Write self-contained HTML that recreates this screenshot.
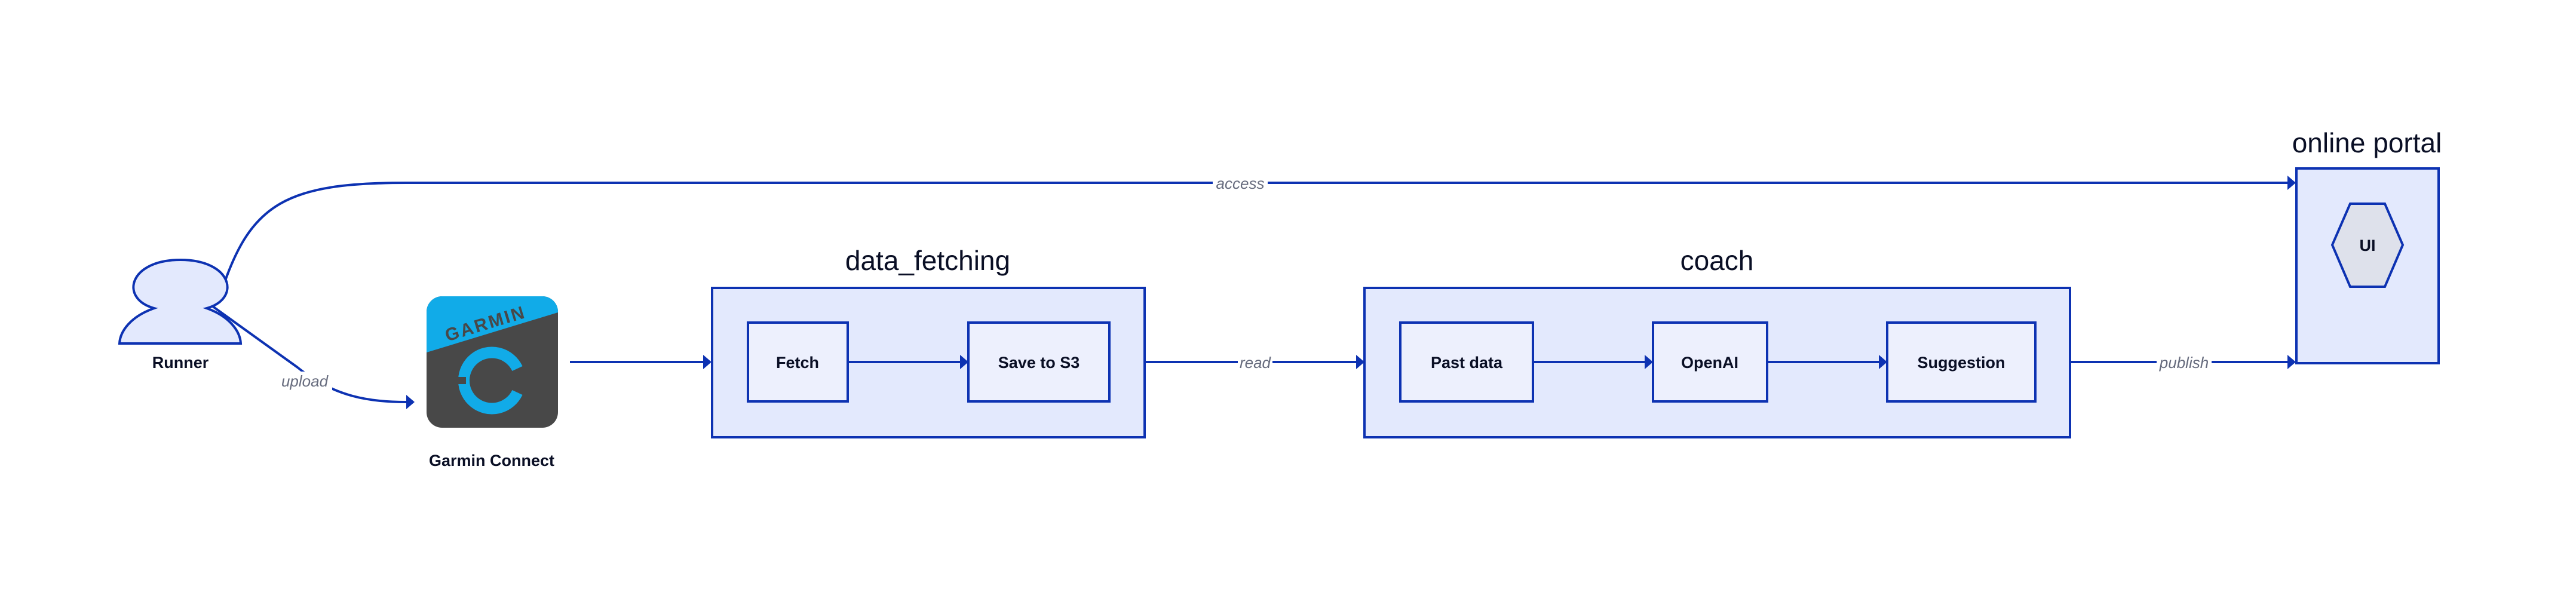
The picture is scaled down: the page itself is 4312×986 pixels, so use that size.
<!DOCTYPE html>
<html><head><meta charset="utf-8"><style>
html,body{margin:0;padding:0;background:#fff;}
svg{display:block;}
text{font-family:"Liberation Sans",sans-serif;}
.t{font-size:46px;fill:#0a0f25;text-anchor:middle;}
.n{font-size:27px;font-weight:bold;fill:#0a0f25;text-anchor:middle;}
.l{font-size:26px;font-style:italic;fill:#676c7e;text-anchor:middle;}
</style></head><body>
<svg width="4312" height="986" viewBox="0 0 4312 986" xmlns="http://www.w3.org/2000/svg">
<rect width="4312" height="986" fill="#fff"/>

<!-- access connector -->
<path d="M372,484 C420,340 480,306 680,306 L3830,306" fill="none" stroke="#0d32b2" stroke-width="4"/>
<polygon points="3843,306 3829,294 3829,318" fill="#0d32b2"/>
<rect x="2030" y="290" width="92" height="32" fill="#fff"/>
<text class="l" x="2076" y="316">access</text>

<!-- upload connector -->
<path d="M352,510 L498,615 C560,665 620,673 680,673" fill="none" stroke="#0d32b2" stroke-width="4"/>
<polygon points="694,673 680,661 680,685" fill="#0d32b2"/>
<rect x="466" y="622" width="90" height="34" fill="#fff"/>
<text class="l" x="510" y="647">upload</text>

<!-- Runner -->
<path d="M258,516 C200,500 215,435 302,435 C389,435 404,500 346,516 C385,530 402,555 403,575 L200,575 C201,555 218,530 258,516 Z" fill="#e3e9fd" stroke="#0d32b2" stroke-width="4" stroke-linejoin="miter"/>
<text class="n" x="302" y="616">Runner</text>

<!-- Garmin icon -->
<clipPath id="g"><rect x="714" y="496" width="220" height="220" rx="26"/></clipPath>
<g clip-path="url(#g)">
<rect x="714" y="496" width="220" height="220" fill="#484848"/>
<polygon points="714,496 934,496 934,523 714,590" fill="#11abe8"/>
<text x="812" y="552" transform="rotate(-17 812 540)" style="font-size:30px;font-weight:bold;fill:#484848;text-anchor:middle;letter-spacing:3px">GARMIN</text>
<path d="M866,617 A47,47 0 1 0 866,657" fill="none" stroke="#11abe8" stroke-width="19"/>
<rect x="760" y="631" width="20" height="12" fill="#484848"/>
</g>
<text class="n" x="823" y="780">Garmin Connect</text>

<!-- Garmin -> data_fetching -->
<line x1="954" y1="606" x2="1178" y2="606" stroke="#0d32b2" stroke-width="4"/>
<polygon points="1191,606 1177,594 1177,618" fill="#0d32b2"/>

<!-- data_fetching container -->
<text class="t" x="1553" y="452">data_fetching</text>
<rect x="1192" y="482" width="724" height="250" fill="#e3e9fd" stroke="#0d32b2" stroke-width="4"/>
<rect x="1252" y="540" width="167" height="132" fill="#edf0fd" stroke="#0d32b2" stroke-width="4"/>
<text class="n" x="1335" y="616">Fetch</text>
<line x1="1419" y1="606" x2="1608" y2="606" stroke="#0d32b2" stroke-width="4"/>
<polygon points="1621,606 1607,594 1607,618" fill="#0d32b2"/>
<rect x="1621" y="540" width="236" height="132" fill="#edf0fd" stroke="#0d32b2" stroke-width="4"/>
<text class="n" x="1739" y="616">Save to S3</text>

<!-- read -->
<line x1="1916" y1="606" x2="2270" y2="606" stroke="#0d32b2" stroke-width="4"/>
<polygon points="2284,606 2270,594 2270,618" fill="#0d32b2"/>
<rect x="2072" y="590" width="58" height="34" fill="#fff"/>
<text class="l" x="2101" y="616">read</text>

<!-- coach container -->
<text class="t" x="2874" y="452">coach</text>
<rect x="2284" y="482" width="1181" height="250" fill="#e3e9fd" stroke="#0d32b2" stroke-width="4"/>
<rect x="2344" y="540" width="222" height="132" fill="#edf0fd" stroke="#0d32b2" stroke-width="4"/>
<text class="n" x="2455" y="616">Past data</text>
<line x1="2566" y1="606" x2="2753" y2="606" stroke="#0d32b2" stroke-width="4"/>
<polygon points="2767,606 2753,594 2753,618" fill="#0d32b2"/>
<rect x="2767" y="540" width="191" height="132" fill="#edf0fd" stroke="#0d32b2" stroke-width="4"/>
<text class="n" x="2862" y="616">OpenAI</text>
<line x1="2958" y1="606" x2="3145" y2="606" stroke="#0d32b2" stroke-width="4"/>
<polygon points="3159,606 3145,594 3145,618" fill="#0d32b2"/>
<rect x="3159" y="540" width="248" height="132" fill="#edf0fd" stroke="#0d32b2" stroke-width="4"/>
<text class="n" x="3283" y="616">Suggestion</text>

<!-- publish -->
<line x1="3465" y1="606" x2="3830" y2="606" stroke="#0d32b2" stroke-width="4"/>
<polygon points="3843,606 3829,594 3829,618" fill="#0d32b2"/>
<rect x="3610" y="590" width="92" height="34" fill="#fff"/>
<text class="l" x="3656" y="616">publish</text>

<!-- online portal -->
<text class="t" x="3962" y="255">online portal</text>
<rect x="3844" y="282" width="238" height="326" fill="#e3e9fd" stroke="#0d32b2" stroke-width="4"/>
<polygon points="3904,410 3934,341 3992,341 4022,410 3992,480 3934,480" fill="#dee1eb" stroke="#0d32b2" stroke-width="4"/>
<text class="n" x="3963" y="420">UI</text>
</svg>
</body></html>
